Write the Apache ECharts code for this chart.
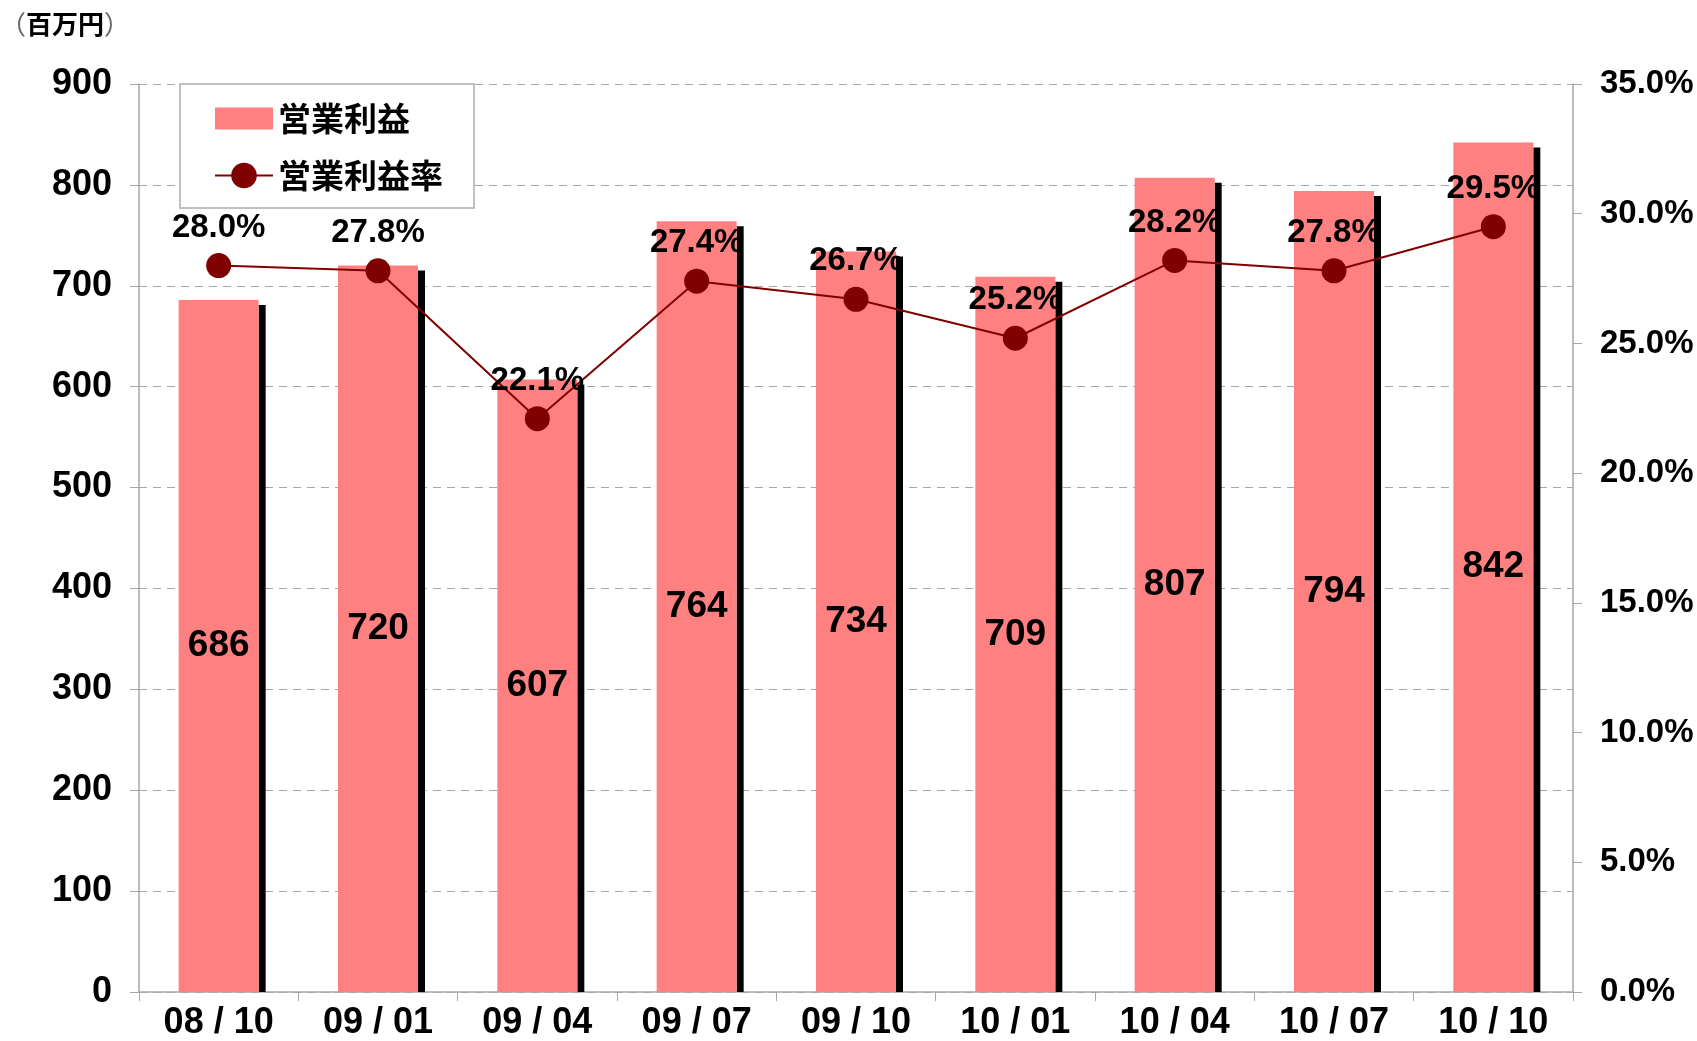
<!DOCTYPE html>
<html>
<head>
<meta charset="utf-8">
<script src="https://cdn.jsdelivr.net/npm/echarts@6/dist/echarts.min.js"></script>
<style>
html,body{margin:0;padding:0;background:#fff;}
#c{width:1697px;height:1041px;}
</style>
</head>
<body>
<div id="c"></div>
<script>
var categories = ['08/10','09/01','09/04','09/07','09/10','10/01','10/04','10/07','10/10'];
var profit = [686, 720, 607, 764, 734, 709, 807, 794, 842];
var margin = [28.0, 27.8, 22.1, 27.4, 26.7, 25.2, 28.2, 27.8, 29.5];
var leftTicks = {min: 0, max: 900, interval: 100};
var rightTicks = {min: 0, max: 35, interval: 5};

var FONT = '"Liberation Sans", Arial, sans-serif';
var CJK = '"Noto Sans CJK JP", sans-serif';

var chart = echarts.init(document.getElementById('c'), null, {renderer: 'canvas'});
chart.setOption({
  animation: false,
  backgroundColor: '#fff',
  title: {
    text: '{p|（}{t|百万円}{p|）}',
    left: 0, top: 6, padding: [5, 0],
    textStyle: {
      rich: {
        p: {fontFamily: CJK, fontSize: 26, color: '#666', fontWeight: 'normal'},
        t: {fontFamily: CJK, fontSize: 26, color: '#000', fontWeight: 'bold'}
      }
    }
  },
  grid: {left: 139, right: 124, top: 84, bottom: 48.5, containLabel: false},
  legend: {
    orient: 'vertical',
    left: 180, top: 84,
    padding: [18, 31, 16, 34],
    itemWidth: 58, itemHeight: 32, itemGap: 24,
    borderColor: '#c0c0c0', borderWidth: 2,
    backgroundColor: '#fff',
    textStyle: {fontFamily: CJK, fontSize: 33, fontWeight: 'bold', color: '#000'},
    data: [
      {name: '営業利益', icon: 'path://M0,0h58v22h-58z'},
      {name: '営業利益率'}
    ]
  },
  xAxis: {
    type: 'category',
    data: categories,
    boundaryGap: true,
    axisLine: {lineStyle: {color: '#a6a6a6', width: 1.5}},
    axisTick: {show: true, length: 9, inside: false, lineStyle: {color: '#a6a6a6'}},
    axisLabel: {margin: 13, fontFamily: FONT, fontSize: 36, fontWeight: 'bold', color: '#000',
      formatter: function (v) { return v.replace('/', ' / '); }}
  },
  yAxis: [
    {
      type: 'value', position: 'left',
      min: leftTicks.min, max: leftTicks.max, interval: leftTicks.interval,
      axisLine: {show: true, lineStyle: {color: '#a6a6a6', width: 1.5}},
      axisTick: {show: true, length: 9, lineStyle: {color: '#a6a6a6'}},
      axisLabel: {margin: 27, fontFamily: FONT, fontSize: 36, fontWeight: 'bold', color: '#000'},
      splitLine: {show: true, lineStyle: {color: '#a6a6a6', type: [8, 6], width: 1.2}}
    },
    {
      type: 'value', position: 'right',
      min: rightTicks.min, max: rightTicks.max, interval: rightTicks.interval,
      axisLine: {show: true, lineStyle: {color: '#a6a6a6', width: 1.5}},
      axisTick: {show: true, length: 9, lineStyle: {color: '#a6a6a6'}},
      axisLabel: {margin: 27, fontFamily: FONT, fontSize: 33, fontWeight: 'bold', color: '#000',
        formatter: function (v) { return v.toFixed(1) + '%'; }},
      splitLine: {show: false}
    }
  ],
  series: [
    {
      name: '営業利益',
      type: 'bar',
      yAxisIndex: 0,
      data: profit,
      barWidth: 80,
      itemStyle: {color: '#ff8080'},
      label: {show: true, position: 'inside', fontFamily: FONT, fontSize: 37, fontWeight: 'bold', color: '#000'},
      z: 2
    },
    {
      name: 'shadow',
      type: 'custom',
      yAxisIndex: 0,
      data: profit.map(function (v, i) { return [i, v]; }),
      renderItem: function (params, api) {
        var top = api.coord([api.value(0), api.value(1)]);
        var base = api.coord([api.value(0), 0]);
        return {
          type: 'rect',
          shape: {x: top[0] + 40, y: top[1] + 5, width: 7, height: base[1] - top[1] - 5},
          style: {fill: '#000'}
        };
      },
      silent: true,
      z: 2
    },
    {
      name: '営業利益率',
      type: 'line',
      yAxisIndex: 1,
      data: margin,
      symbol: 'circle',
      symbolSize: 25,
      itemStyle: {color: '#800000'},
      lineStyle: {color: '#800000', width: 2},
      label: {show: true, position: 'top', distance: 9, fontFamily: FONT, fontSize: 33, fontWeight: 'bold', color: '#000',
        formatter: function (p) { return p.value.toFixed(1) + '%'; }},
      z: 5
    }
  ]
});
</script>
</body>
</html>
